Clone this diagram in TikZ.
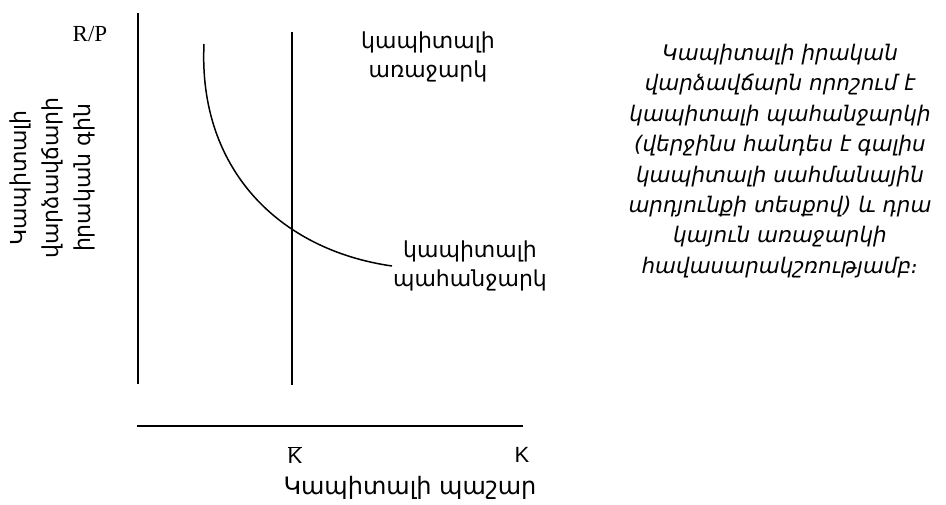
\documentclass[tikz,border=0pt]{standalone}
\usepackage{fontspec}
\setmainfont{DejaVu Sans}
\newfontfamily\lsans{Liberation Sans}
\newfontfamily\lserif{Liberation Serif}
\begin{document}
\begin{tikzpicture}[x=1pt,y=-1pt,
  axisline/.style={line width=1.7pt},
  curveline/.style={line width=1.5pt},
  lbl/.style={font=\fontsize{22}{29}\selectfont, align=center, inner sep=0pt},
  note/.style={font=\fontsize{21.5}{30.4}\selectfont\itshape, align=center, inner sep=0pt},
  lat/.style={font=\lsans\fontsize{22}{26}\selectfont, inner sep=0pt}]
\useasboundingbox (0,0) rectangle (946,504);
% axes
\coordinate (ytop) at (138,13);
\coordinate (ybot) at (138,384);
\coordinate (xl) at (137,426);
\coordinate (xr) at (523,426);
\coordinate (stop) at (292,32);
\coordinate (sbot) at (292,385);
\coordinate (dstart) at (204,44);
\coordinate (dend) at (392,266);
\draw[axisline] (ytop) -- (ybot);
\draw[axisline] (xl) -- (xr);
\draw[axisline] (stop) -- (sbot);
\draw[curveline] (dstart) .. controls (198,170) and (280,250) .. (dend);
% labels
\node[font=\lserif\fontsize{23}{26}\selectfont, inner sep=0pt] (rp) at (90,34) {R/P};
\node[lbl, rotate=90, font=\fontsize{22}{32}\selectfont] (ylab) at (52,178) {Կապիտալի\\վարձավճարի\\իրական գին};
\node[lbl] (supply) at (428,57) {կապիտալի\\առաջարկ};
\node[lbl] (demand) at (470,266) {կապիտալի\\պահանջարկ};
\node[note] (text) at (780,161) {Կապիտալի իրական\\վարձավճարն որոշում է\\կապիտալի պահանջարկի\\(վերջինս հանդես է գալիս\\կապիտալի սահմանային\\արդյունքի տեսքով) և դրա\\կայուն առաջարկի\\հավասարակշռությամբ։};
\node[lat] (kbar) at (295,455) {$\overline{\hbox{\lsans K}}$};
\node[lat] (k) at (522,455) {K};
\node[lbl, font=\fontsize{24}{28}\selectfont] (xlab) at (410,488) {Կապիտալի պաշար};
\end{tikzpicture}
\end{document}
